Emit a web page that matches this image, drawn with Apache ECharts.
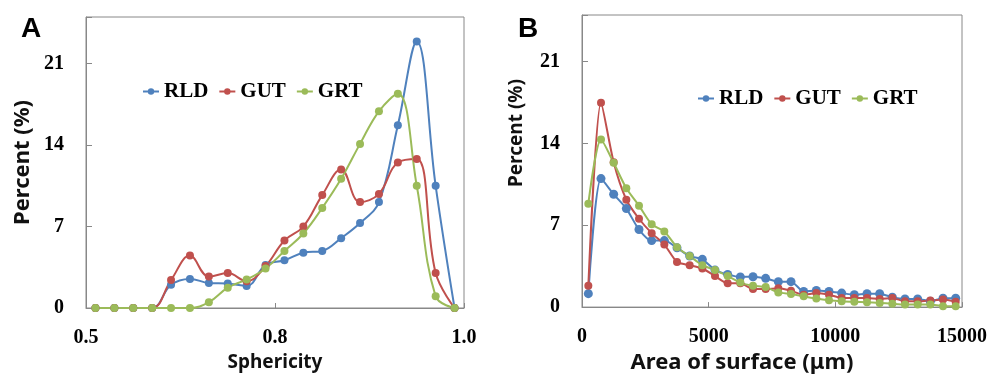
<!DOCTYPE html>
<html>
<head>
<meta charset="utf-8">
<script src="https://cdn.jsdelivr.net/npm/echarts@6/dist/echarts.min.js"></script>
<style>
html,body{margin:0;padding:0;background:#fff;}
#chart{width:993px;height:379px;}
</style>
</head>
<body>
<div id="chart"></div>
<script>
// Panel A: sphericity distribution
const sphericity = [0.5125,0.5375,0.5625,0.5875,0.6125,0.6375,0.6625,0.6875,0.7125,0.7375,0.7625,0.7875,0.8125,0.8375,0.8625,0.8875,0.9125,0.9375,0.9625,0.9875];
const rldA = [0,0,0,0,2.0,2.5,2.15,2.1,1.9,3.7,4.1,4.75,4.9,6.0,7.3,9.1,15.7,22.9,10.5,0];
const gutA = [0,0,0,0,2.4,4.5,2.7,3.0,2.3,3.6,5.8,7.0,9.7,11.9,9.1,9.8,12.5,12.8,3.0,0];
const grtA = [0,0,0,0,0,0,0.5,1.75,2.45,3.4,4.9,6.4,8.6,11.1,14.1,16.9,18.4,10.5,1.0,0];

// Panel B: area of surface distribution
const area = [250,750,1250,1750,2250,2750,3250,3750,4250,4750,5250,5750,6250,6750,7250,7750,8250,8750,9250,9750,10250,10750,11250,11750,12250,12750,13250,13750,14250,14750];
const rldB = [1.15,11.0,9.66,8.43,6.64,5.69,5.69,5.07,4.37,4.09,3.17,2.8,2.58,2.6,2.46,2.18,2.18,1.34,1.43,1.34,1.2,1.06,1.15,1.15,0.84,0.7,0.7,0.5,0.76,0.76];
const gutB = [1.82,17.5,12.4,9.19,7.56,6.33,5.35,3.87,3.59,3.3,2.66,2.04,2.04,1.54,1.54,1.62,1.4,1.06,1.2,1.06,0.78,0.78,0.78,0.7,0.78,0.5,0.5,0.56,0.64,0.45];
const grtB = [8.85,14.35,12.35,10.17,8.68,7.09,6.47,5.13,4.37,3.59,3.17,2.66,2.1,1.82,1.71,1.26,1.12,0.92,0.73,0.59,0.5,0.45,0.42,0.36,0.28,0.22,0.22,0.22,0.08,0.08];

const seriesNames = ['RLD','GUT','GRT'];
const colors = ['#4F81BD','#C0504D','#9BBB59'];
const yTicks = [0,7,14,21];

const chart = echarts.init(document.getElementById('chart'), null, {renderer:'canvas'});
const serif = 'Liberation Serif';
const tickLabel = {fontFamily: serif, fontWeight:'bold', fontSize:20, color:'#000'};
const axisTitle = {fontFamily:'Noto Sans', fontWeight:'bold', fontSize:19, color:'#111'};
const gray = '#888888';

function mkX(idx, min, max, interval, fmt, name, gap, extra){
  return {
    type:'value', gridIndex:idx, min:min, max:max, interval:interval,
    axisLine:{show:true, lineStyle:{color:gray, width:1}},
    axisTick:{show:true, inside:true, length:5, lineStyle:{color:gray}},
    splitLine:{show:false},
    axisLabel:Object.assign({margin:20, formatter:fmt}, tickLabel),
    name:name, nameLocation:'middle', nameGap:gap,
    nameTextStyle:Object.assign({}, axisTitle, extra)
  };
}
function mkY(idx, gap, extra){
  return {
    type:'value', gridIndex:idx, min:0, max:25, interval:7,
    axisLine:{show:true, lineStyle:{color:gray, width:1}},
    axisTick:{show:true, inside:true, length:6, lineStyle:{color:gray}},
    splitLine:{show:false},
    axisLabel:Object.assign({margin:22, formatter:v => yTicks.indexOf(v) >= 0 ? String(v) : ''}, tickLabel),
    name:'Percent (%)', nameLocation:'middle', nameRotate:90, nameGap:gap,
    nameTextStyle:Object.assign({}, axisTitle, extra)
  };
}
function mkSeries(xIdx, xs, ys, i, smooth, size){
  return {
    name:seriesNames[i], type:'line', xAxisIndex:xIdx, yAxisIndex:xIdx,
    data:xs.map((x,k)=>[x, ys[k]]),
    smooth:smooth, symbol:'circle', symbolSize:size,
    itemStyle:{color:colors[i]}, lineStyle:{color:colors[i], width:2},
    animation:false
  };
}
const legendBase = {
  data:seriesNames, orient:'horizontal', itemWidth:16, itemHeight:8, itemGap:10,
  textStyle:{fontFamily:serif, fontWeight:'bold', fontSize:21, color:'#000'},
  selectedMode:false
};

chart.setOption({
  animation:false,
  title:[
    {text:'A', left:16, top:10, textStyle:{fontFamily:'Liberation Sans', fontWeight:'bold', fontSize:28, color:'#000'}},
    {text:'B', left:513, top:10, textStyle:{fontFamily:'Liberation Sans', fontWeight:'bold', fontSize:28, color:'#000'}}
  ],
  legend:[
    Object.assign({left:137, top:76}, legendBase),
    Object.assign({left:692, top:83}, legendBase)
  ],
  grid:[
    {left:86, top:17, width:378, height:291, show:true, borderColor:gray, borderWidth:1, backgroundColor:'#fff'},
    {left:582, top:15, width:380, height:298, show:true, borderColor:gray, borderWidth:1, backgroundColor:'#fff'}
  ],
  xAxis:[
    mkX(0, 0.5, 1.0, 0.25, v => v.toFixed(1), 'Sphericity', 44, {}),
    mkX(1, 0, 15000, 5000, v => String(v), 'Area of surface (\u03bcm)', 40, {fontSize:22, padding:[0,60,0,0]})
  ],
  yAxis:[ mkY(0, 52, {fontSize:22}), mkY(1, 56, {fontSize:19, padding:[0,0,0,56]}) ],
  series:[
    mkSeries(0, sphericity, rldA, 0, 0.4, 8),
    mkSeries(0, sphericity, gutA, 1, 0.4, 8),
    mkSeries(0, sphericity, grtA, 2, 0.4, 8),
    mkSeries(1, area, rldB, 0, 0.25, 9),
    mkSeries(1, area, gutB, 1, 0.25, 8),
    mkSeries(1, area, grtB, 2, 0.25, 8)
  ]
});
</script>
</body>
</html>
